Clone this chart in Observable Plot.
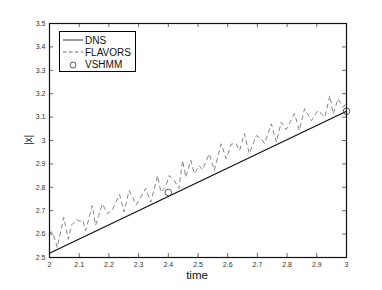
<!DOCTYPE html>
<html><head><meta charset="utf-8">
<script src="https://cdn.jsdelivr.net/npm/d3@7"></script>
<script src="https://cdn.jsdelivr.net/npm/@observablehq/plot@0.6"></script>
<style>
body{margin:0;background:#fff;font-family:"Liberation Sans",Arial,sans-serif;}
#wrap{position:relative;width:382px;height:290px;}
#legend{position:absolute;left:59px;top:31px;width:77px;height:41px;border:1px solid #000;background:#fff;box-sizing:border-box;font-size:10px;color:#111;}
.row{position:absolute;height:12px;display:flex;align-items:center;}
.row svg{display:block}
.row span{margin-left:2px}
</style></head>
<body><div id="wrap"><div id="legend"></div></div>
<script>
const dnsT = [2.0, 3.0];
const dnsV = [2.518, 3.125];
const flavorsT = [2.000,2.005,2.012,2.026,2.048,2.063,2.075,2.092,2.102,2.112,2.122,2.144,2.155,2.178,2.195,2.210,2.236,2.251,2.268,2.292,2.324,2.341,2.364,2.375,2.390,2.403,2.420,2.436,2.448,2.459,2.476,2.488,2.504,2.515,2.538,2.555,2.578,2.595,2.612,2.628,2.640,2.656,2.673,2.696,2.713,2.724,2.747,2.764,2.780,2.797,2.825,2.841,2.859,2.882,2.904,2.927,2.944,2.955,2.972,2.989,3.000];
const flavorsV = [2.600,2.610,2.605,2.543,2.672,2.578,2.640,2.662,2.655,2.660,2.615,2.722,2.637,2.729,2.687,2.700,2.769,2.695,2.786,2.725,2.795,2.736,2.850,2.779,2.800,2.850,2.830,2.795,2.915,2.843,2.915,2.858,2.893,2.875,2.943,2.872,2.986,2.922,2.985,2.987,2.957,3.029,2.944,3.021,3.008,2.987,3.071,2.993,3.078,3.047,3.115,3.043,3.136,3.085,3.128,3.100,3.192,3.114,3.178,3.142,3.160];
const vshmmT = [2.4, 3.0];
const vshmmV = [2.778, 3.125];
const xTicks = [2,2.1,2.2,2.3,2.4,2.5,2.6,2.7,2.8,2.9,3];
const yTicks = [2.5,2.6,2.7,2.8,2.9,3,3.1,3.2,3.3,3.4,3.5];
const seriesNames = ["DNS","FLAVORS","VSHMM"];

const dns = dnsT.map((t,i)=>({t, v:dnsV[i]}));
const flavors = flavorsT.map((t,i)=>({t, v:flavorsV[i]}));
const vshmm = vshmmT.map((t,i)=>({t, v:vshmmV[i]}));
const fmt = d => String(+d.toFixed(1));

const W = 382, H = 290, mL = 49, mR = 36, mT = 23, mB = 33;
const pw = W - mL - mR, ph = H - mT - mB, tk = 4;

const chart = Plot.plot({
  width: W, height: H,
  marginLeft: mL, marginRight: mR, marginTop: mT, marginBottom: mB,
  style: {fontFamily: '"Liberation Sans", Arial, sans-serif', fontSize: "7px", color: "#333", background: "#fff"},
  x: {domain: [2,3], ticks: xTicks, tickFormat: fmt},
  y: {domain: [2.5,3.5], ticks: yTicks, tickFormat: fmt},
  marks: [
    Plot.line(flavors, {x:"t", y:"v", stroke:"#666", strokeWidth:0.8, strokeDasharray:"4,4"}),
    Plot.line(dns, {x:"t", y:"v", stroke:"#111", strokeWidth:1.3}),
    Plot.dot(vshmm, {x:"t", y:"v", r:3.3, stroke:"#333", strokeWidth:0.8, fill:"none"}),
    Plot.axisX(xTicks, {anchor:"bottom", tickSize:0, tickPadding:5, tickFormat: fmt, label:null}),
    Plot.axisY(yTicks, {anchor:"left", tickSize:0, tickPadding:4, tickFormat: fmt, label:null}),
    Plot.tickX(xTicks, {x: d=>d, insetTop: ph - tk, stroke:"#444", strokeWidth:0.8}),
    Plot.tickX(xTicks, {x: d=>d, insetBottom: ph - tk, stroke:"#444", strokeWidth:0.8}),
    Plot.tickY(yTicks, {y: d=>d, insetRight: pw - tk, stroke:"#444", strokeWidth:0.8}),
    Plot.tickY(yTicks, {y: d=>d, insetLeft: pw - tk, stroke:"#444", strokeWidth:0.8}),
    Plot.frame({stroke:"#111", strokeWidth:1.2})
  ]
});
chart.style.position = "absolute";
chart.style.left = "0"; chart.style.top = "0";
const wrap = document.getElementById("wrap");
wrap.insertBefore(chart, wrap.firstChild);

const svg = d3.select(chart);
svg.append("text").attr("x", 197).attr("y", 279).attr("text-anchor","middle")
  .style("font-size","11.5px").style("fill","#111").text("time");
svg.append("text").attr("transform","translate(32,140) rotate(-90)").attr("text-anchor","middle")
  .style("font-size","10px").style("fill","#111").text("|x|");

const legend = d3.select("#legend");
const styles = [
  {dash:null, circle:false, w:1, c:"#333"},
  {dash:"3.5,2.5", circle:false, w:0.8, c:"#444"},
  {dash:null, circle:true}
];
seriesNames.forEach((name,i)=>{
  const row = legend.append("div").attr("class","row").style("top", (2 + i*12.3) + "px").style("left","3px");
  const s = row.append("svg").attr("width",20).attr("height",10);
  const st = styles[i];
  if (st.circle) s.append("circle").attr("cx",10).attr("cy",5).attr("r",3).attr("fill","none").attr("stroke","#333").attr("stroke-width",0.8);
  else s.append("line").attr("x1",0).attr("x2",20).attr("y1",5).attr("y2",5).attr("stroke",st.c).attr("stroke-width",st.w).attr("stroke-dasharray",st.dash);
  row.append("span").text(name);
});
</script></body></html>
